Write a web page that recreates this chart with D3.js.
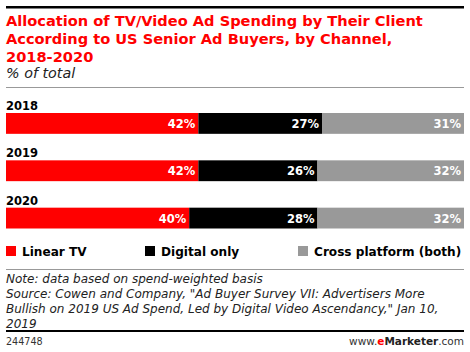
<!DOCTYPE html>
<html>
<head>
<meta charset="utf-8">
<script src="https://cdnjs.cloudflare.com/ajax/libs/d3/7.8.5/d3.min.js"></script>
<style>
  body { margin: 0; background: #fff; }
  text { font-family: "DejaVu Sans", Verdana, sans-serif; }
</style>
</head>
<body>
<div id="chart"></div>
<script>
// data
var years = ["2018", "2019", "2020"];
var channels = ["Linear TV", "Digital only", "Cross platform (both)"];
var linearTV = [42, 42, 40];
var digitalOnly = [27, 26, 28];
var crossPlatform = [31, 32, 32];
var colors = ["#ff0000", "#000000", "#999999"];

var titleLines = [
  "Allocation of TV/Video Ad Spending by Their Client",
  "According to US Senior Ad Buyers, by Channel,",
  "2018-2020"
];
var noteLines = [
  "Note: data based on spend-weighted basis",
  "Source: Cowen and Company, \"Ad Buyer Survey VII: Advertisers More",
  "Bullish on 2019 US Ad Spend, Led by Digital Video Ascendancy,\" Jan 10,",
  "2019"
];

var w = 470;
var h = 352;

var svg = d3.select("#chart")
            .append("svg")
            .attr("width", w)
            .attr("height", h);

// header rules
svg.append("rect").attr("x", 6).attr("y", 6).attr("width", 458).attr("height", 2.5).attr("fill", "#000");

svg.selectAll("text.title")
   .data(titleLines)
   .enter()
   .append("text")
   .attr("class", "title")
   .attr("x", 6)
   .attr("y", function(d, i) { return 26 + i * 18; })
   .attr("fill", "#ff0000")
   .style("font-weight", "bold")
   .style("font-size", "14.6px")
   .text(function(d) { return d; });

svg.append("text")
   .attr("x", 6)
   .attr("y", 78)
   .style("font-style", "italic")
   .style("font-size", "14.3px")
   .attr("fill", "#222")
   .text("% of total");

svg.append("rect").attr("x", 6).attr("y", 87).attr("width", 458).attr("height", 1).attr("fill", "#999");

// stacked data
var stacked = years.map(function(y, i) {
    return { year: y, values: [linearTV[i], digitalOnly[i], crossPlatform[i]] };
});

var x = d3.scaleLinear()
          .domain([0, 100])
          .range([6, 464]);

// band step ~47.5, bar height ~20.5
var yPos = d3.scaleBand()
             .domain(years)
             .range([113, 113 + 47.5 * 3 - 27])
             .paddingInner(0.56)
             .paddingOuter(0);

var rows = svg.selectAll("g.row")
   .data(stacked)
   .enter()
   .append("g")
   .attr("class", "row");

rows.append("text")
    .attr("x", 6)
    .attr("y", function(d) { return yPos(d.year) - 3; })
    .style("font-weight", "bold")
    .style("font-size", "11.5px")
    .attr("fill", "#000")
    .text(function(d) { return d.year; });

rows.each(function(d) {
    var g = d3.select(this);
    var start = 0;
    d.values.forEach(function(v, k) {
        var x0 = x(start), x1 = x(start + v);
        g.append("rect")
         .attr("x", x0)
         .attr("y", yPos(d.year))
         .attr("width", x1 - x0)
         .attr("height", yPos.bandwidth())
         .attr("fill", colors[k]);
        g.append("text")
         .attr("x", x1 - 3)
         .attr("y", yPos(d.year) + yPos.bandwidth() / 2 + 4.5)
         .attr("text-anchor", "end")
         .attr("fill", "#fff")
         .style("font-weight", "bold")
         .style("font-size", "11.5px")
         .text(v + "%");
        start += v;
    });
});

// legend
var legendX = [6, 145, 298];
var legend = svg.selectAll("g.legend")
   .data(channels)
   .enter()
   .append("g")
   .attr("class", "legend")
   .attr("transform", function(d, i) { return "translate(" + legendX[i] + ",246)"; });
legend.append("rect")
      .attr("width", 10)
      .attr("height", 10)
      .attr("fill", function(d, i) { return colors[i]; });
legend.append("text")
      .attr("x", 16)
      .attr("y", 10)
      .style("font-weight", "bold")
      .style("font-size", "12.1px")
      .attr("fill", "#000")
      .text(function(d) { return d; });

svg.append("rect").attr("x", 6).attr("y", 269).attr("width", 458).attr("height", 1).attr("fill", "#999");

svg.selectAll("text.note")
   .data(noteLines)
   .enter()
   .append("text")
   .attr("class", "note")
   .attr("x", 6)
   .attr("y", function(d, i) { return 283 + i * 15; })
   .style("font-style", "italic")
   .style("font-size", "12px")
   .attr("fill", "#222")
   .text(function(d) { return d; });

svg.append("rect").attr("x", 6).attr("y", 330).attr("width", 458).attr("height", 2).attr("fill", "#000");

svg.append("text")
   .attr("x", 6)
   .attr("y", 345)
   .style("font-size", "9.6px")
   .attr("fill", "#333")
   .text("244748");

var brand = svg.append("text")
   .attr("x", 464)
   .attr("y", 345)
   .attr("text-anchor", "end")
   .style("font-size", "10.5px")
   .attr("fill", "#333");
brand.append("tspan").text("www.");
brand.append("tspan").attr("fill", "#ff0000").style("font-weight", "bold").text("e");
brand.append("tspan").style("font-weight", "bold").attr("fill", "#222").text("Marketer");
brand.append("tspan").text(".com");
</script>
</body>
</html>
